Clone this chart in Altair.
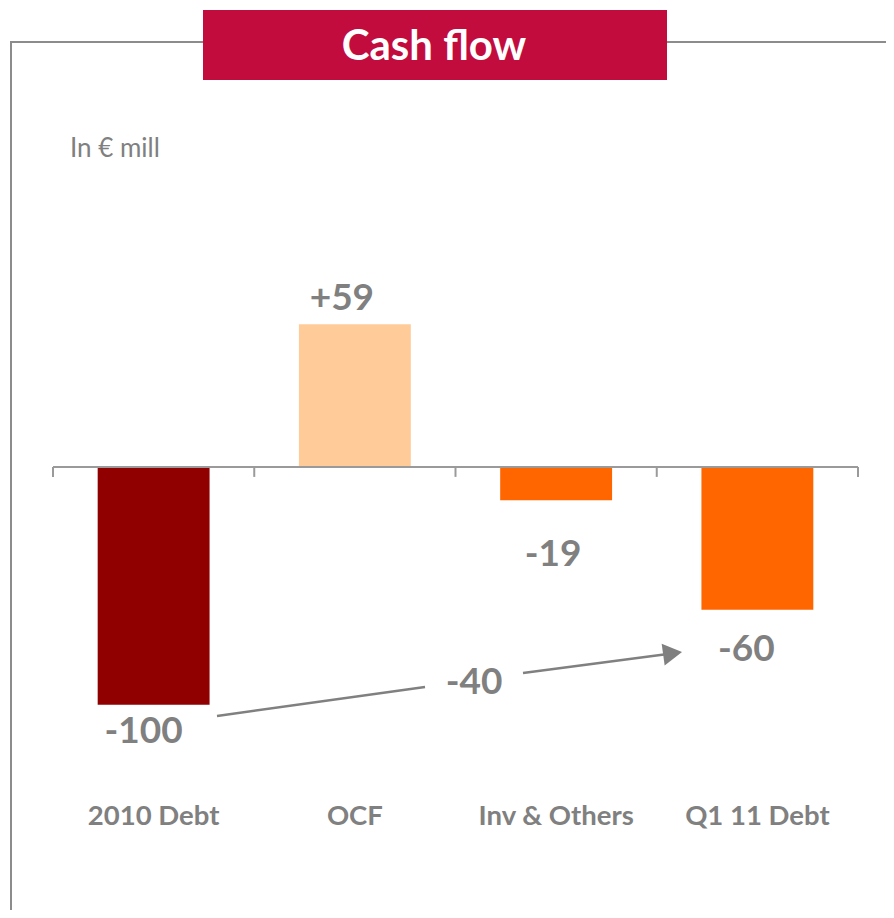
import altair as alt
import pandas as pd

# ---- data ----
categories = ["2010 Debt", "OCF", "Inv & Others", "Q1 11 Debt"]
values = [-100, 60, -14, -60]
value_labels = ["-100", "+59", "-19", "-60"]
bar_colors = ["#900000", "#FFCC99", "#FF6600", "#FF6600"]
change_label = "-40"
title_text = "Cash flow"
unit_text = "In € mill"

df = pd.DataFrame({"cat": categories, "val": values, "lab": value_labels})
bounds = pd.DataFrame({"b": list(range(len(categories) + 1))})

W, H = 805, 690
Y_DOMAIN = [-140, 150]
K = H / (Y_DOMAIN[1] - Y_DOMAIN[0])  # px per unit
GREY = "#808080"
FONT = "Lato"

xscale = alt.Scale(domain=categories, paddingInner=0.444, paddingOuter=0.222)
yscale = alt.Scale(domain=Y_DOMAIN, nice=False, zero=False)

x_enc = alt.X(
    "cat:N", sort=categories, scale=xscale,
    axis=alt.Axis(title=None, labelAngle=0, labelFont=FONT, labelFontSize=27.5,
                  labelFontWeight="bold", labelColor=GREY, ticks=False,
                  domain=False, labelPadding=16, labelBaseline="middle"),
)
y_enc = alt.Y("val:Q", scale=yscale, axis=None)

base = alt.Chart(df)

bars = base.mark_bar().encode(
    x=x_enc, y=y_enc, y2=alt.datum(0),
    color=alt.Color("cat:N", scale=alt.Scale(domain=categories, range=bar_colors), legend=None),
)

label_dx = [-10, -13, -3, -11]
label_dy = [27, -25, 55, 40]
label_layers = []
for i, c in enumerate(categories):
    label_layers.append(
        base.transform_filter(alt.datum.cat == c).mark_text(
            font=FONT, fontSize=37, fontWeight="bold", color=GREY,
            baseline="middle", align="center", dx=label_dx[i], dy=label_dy[i],
        ).encode(x=alt.X("cat:N", sort=categories), y=y_enc, text="lab:N")
    )

cat_layer = alt.layer(bars, *label_layers)

# zero line and band-boundary ticks
zero_line = alt.Chart(bounds).mark_rule(color="#9a9a9a", strokeWidth=2).encode(
    x=alt.value(0), x2=alt.value(W), y=alt.datum(0)
)
ticks = alt.Chart(bounds).mark_rule(color="#9a9a9a", strokeWidth=2).encode(
    x=alt.X("b:Q", scale=alt.Scale(domain=[0, len(categories)], nice=False), axis=None),
    y=alt.datum(0), y2=alt.datum(-10 / K),
)
axis_layer = alt.layer(zero_line, ticks)

one = alt.Data(values=[{"k": 1}])

# ---- arrow annotation ----
seg1 = alt.Chart(one).mark_rule(color=GREY, strokeWidth=2.5).encode(
    x=alt.value(164), y=alt.value(606), x2=alt.value(372), y2=alt.value(577))
seg2 = alt.Chart(one).mark_rule(color=GREY, strokeWidth=2.5).encode(
    x=alt.value(470), y=alt.value(563), x2=alt.value(611), y2=alt.value(544.5))
head = alt.Chart(one).mark_point(shape="triangle-right", filled=True, size=484,
                                 angle=352.2, color=GREY, opacity=1).encode(
    x=alt.value(619.6), y=alt.value(543.3))
change_txt = alt.Chart(alt.Data(values=[{"t": change_label}])).mark_text(
    font=FONT, fontSize=37, fontWeight="bold", color=GREY, baseline="middle", align="center"
).encode(x=alt.value(421), y=alt.value(573), text="t:N")

# ---- frame and title ----
frame_left = alt.Chart(one).mark_rule(color="#8c8c8c", strokeWidth=2).encode(
    x=alt.value(-42), y=alt.value(-68), y2=alt.value(H + 110))
frame_top = alt.Chart(one).mark_rule(color="#8c8c8c", strokeWidth=2).encode(
    x=alt.value(-43), x2=alt.value(W + 40), y=alt.value(-68))
title_box = alt.Chart(one).mark_rect(color="#C20C3D").encode(
    x=alt.value(150), x2=alt.value(614), y=alt.value(-100), y2=alt.value(-30))
title_txt = alt.Chart(alt.Data(values=[{"t": title_text}])).mark_text(
    font=FONT, fontSize=42, fontWeight="bold", color="white", baseline="middle", align="center"
).encode(x=alt.value(381), y=alt.value(-63), text="t:N")
unit_txt = alt.Chart(alt.Data(values=[{"t": unit_text}])).mark_text(
    font=FONT, fontSize=26, color=GREY, baseline="middle", align="left"
).encode(x=alt.value(17), y=alt.value(39), text="t:N")

chart = alt.layer(
    frame_left, frame_top, title_box, title_txt, unit_txt,
    cat_layer, axis_layer,
    seg1, seg2, head, change_txt,
).resolve_scale(x="independent").properties(
    width=W, height=H,
    padding={"left": 45, "top": 102, "right": 28, "bottom": 110},
    autosize=alt.AutoSizeParams(type="none"),
).configure_view(stroke=None)

chart.save("out.html", embed_options={"renderer": "svg", "actions": False})
